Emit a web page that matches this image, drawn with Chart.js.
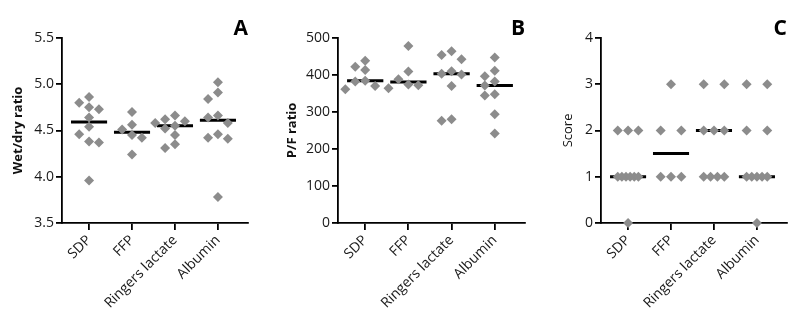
<!DOCTYPE html>
<html>
<head>
<meta charset="utf-8">
<script src="https://cdn.jsdelivr.net/npm/chart.js@4.4.1/dist/chart.umd.min.js"></script>
<style>
  body { margin: 0; background: #fff; }
  #wrap { position: relative; width: 800px; height: 328px; }
  #wrap canvas { position: absolute; left: 0; top: 0; }
</style>
</head>
<body>
<div id="wrap">
  <canvas id="chartA" width="800" height="328"></canvas>
  <canvas id="chartB" width="800" height="328"></canvas>
  <canvas id="chartC" width="800" height="328"></canvas>
</div>
<script>
var groups = ['SDP', 'FFP', 'Ringers lactate', 'Albumin'];

// A - wet/dry ratio
var wetDrySDP = [4.86, 4.80, 4.75, 4.73, 4.64, 4.54, 4.46, 4.38, 4.37, 3.96];
var wetDryFFP = [4.70, 4.56, 4.51, 4.45, 4.42, 4.24];
var wetDryRL = [4.66, 4.62, 4.60, 4.58, 4.55, 4.52, 4.45, 4.35, 4.31];
var wetDryAlb = [5.02, 4.91, 4.84, 4.66, 4.64, 4.58, 4.46, 4.42, 4.41, 3.78];
var ticksA = [3.5, 4.0, 4.5, 5.0, 5.5];

// B - P/F ratio
var pfSDP = [438, 422, 413, 384, 382, 370, 361];
var pfFFP = [478, 409, 388, 374, 372, 364];
var pfRL = [464, 454, 442, 410, 403, 401, 370, 280, 276];
var pfAlb = [447, 411, 396, 382, 371, 348, 344, 294, 242];
var ticksB = [0, 100, 200, 300, 400, 500];

// C - score
var scoreSDP = [2, 2, 2, 1, 1, 1, 1, 1, 1, 0];
var scoreFFP = [3, 2, 2, 1, 1, 1];
var scoreRL = [3, 3, 2, 2, 2, 1, 1, 1, 1];
var scoreAlb = [3, 3, 2, 2, 1, 1, 1, 1, 1, 0];
var ticksC = [0, 1, 2, 3, 4];

var pointGrey = '#8c8c8c';
var fontFam = "'Open Sans', 'DejaVu Sans', sans-serif";

function median(vals) {
  var s = vals.slice().sort(function(a, b) { return a - b; });
  var h = Math.floor(s.length / 2);
  return s.length % 2 ? s[h] : (s[h - 1] + s[h]) / 2;
}

// horizontal spread of the dots inside a group (in category units)
function spreadX(vals, pxPerUnit, ties) {
  var offs = new Array(vals.length);
  if (ties) {
    // equal scores are spread evenly over a fixed width
    var byVal = {};
    vals.forEach(function(v, i) { (byVal[v] = byVal[v] || []).push(i); });
    Object.keys(byVal).forEach(function(k) {
      var idx = byVal[k], n = idx.length;
      idx.forEach(function(i, j) { offs[i] = n === 1 ? 0 : -0.24 + 0.48 * j / (n - 1); });
    });
    return offs;
  }
  var order = vals.map(function(v, i) { return i; }).sort(function(a, b) { return vals[b] - vals[a]; });
  var cands = [0, -1, 1, -2, 2];
  var placed = [];
  order.forEach(function(i) {
    var o = cands[cands.length - 1];
    for (var c = 0; c < cands.length; c++) {
      var free = placed.every(function(p) {
        return p.o !== cands[c] || Math.abs(p.v - vals[i]) * pxPerUnit >= 9;
      });
      if (free) { o = cands[c]; break; }
    }
    placed.push({ o: o, v: vals[i] });
    offs[i] = o * 0.23;
  });
  return offs;
}

function makePanel(id, series, ticks, yTitle, titleBold, titlePad, letter, padLeft, axisW, padRight, ties) {
  var lo = ticks[0], hi = ticks[ticks.length - 1];
  var ppu = 186 / (hi - lo);
  var dots = [], medians = [];
  series.forEach(function(vals, g) {
    var offs = spreadX(vals, ppu, ties);
    vals.forEach(function(v, i) { dots.push({ x: g + offs[i], y: v }); });
    var m = median(vals);
    medians.push({ x: g - 0.42, y: m }, { x: g + 0.42, y: m }, { x: g, y: null });
  });

  var dec = ticks[1] - ticks[0] < 1 ? 1 : 0;

  return new Chart(document.getElementById(id), {
    type: 'scatter',
    data: {
      datasets: [{
        data: dots,
        pointStyle: 'rectRot',
        pointRadius: 5,
        pointBorderWidth: 0,
        backgroundColor: pointGrey,
        borderColor: pointGrey,
        clip: false
      }, {
        data: medians,
        showLine: true,
        spanGaps: false,
        pointRadius: 0,
        borderColor: '#000',
        borderWidth: 3,
        clip: false
      }]
    },
    options: {
      responsive: false,
      animation: false,
      events: [],
      layout: { padding: { left: padLeft, right: padRight, top: 20, bottom: 0 } },
      plugins: {
        legend: { display: false },
        tooltip: { enabled: false },
        title: {
          display: true,
          text: letter,
          align: 'end',
          color: '#000',
          padding: 0,
          font: { family: fontFam, size: 21, weight: 'bold', lineHeight: 0.85 }
        }
      },
      scales: {
        x: {
          type: 'linear',
          min: -0.63,
          max: 3.7,
          afterBuildTicks: function(s) { s.ticks = groups.map(function(g, i) { return { value: i }; }); },
          afterFit: function(s) { s.height = 105; },
          grid: { drawOnChartArea: false, color: '#000', lineWidth: 1.8, tickLength: 7 },
          border: { color: '#000', width: 1.8 },
          ticks: {
            color: '#1a1a1a',
            maxRotation: 45,
            minRotation: 45,
            padding: 2,
            font: { family: fontFam, size: 14 },
            callback: function(v) { return groups[v]; }
          }
        },
        y: {
          min: lo,
          max: hi,
          afterBuildTicks: function(s) { s.ticks = ticks.map(function(t) { return { value: t }; }); },
          afterFit: function(s) { s.width = axisW; },
          grid: { drawOnChartArea: false, color: '#000', lineWidth: 1.8, tickLength: 6 },
          border: { color: '#000', width: 1.8 },
          ticks: {
            color: '#1a1a1a',
            padding: 2,
            font: { family: fontFam, size: 14 },
            callback: function(v) { return v.toFixed(dec); }
          },
          title: {
            display: true,
            text: yTitle,
            color: '#111',
            padding: { top: titlePad, bottom: 0 },
            font: { family: fontFam, size: 13, weight: titleBold ? 'bold' : 'normal' }
          }
        }
      }
    }
  });
}

document.addEventListener('DOMContentLoaded', function() {
  makePanel('chartA', [wetDrySDP, wetDryFFP, wetDryRL, wetDryAlb], ticksA, 'Wet/dry ratio', true, 10, 'A', 0, 62, 552, false);
  makePanel('chartB', [pfSDP, pfFFP, pfRL, pfAlb], ticksB, 'P/F ratio', true, 19, 'B', 265, 73, 275, false);
  makePanel('chartC', [scoreSDP, scoreFFP, scoreRL, scoreAlb], ticksC, 'Score', false, 30, 'C', 530, 71, 13, true);
});
</script>
</body>
</html>
